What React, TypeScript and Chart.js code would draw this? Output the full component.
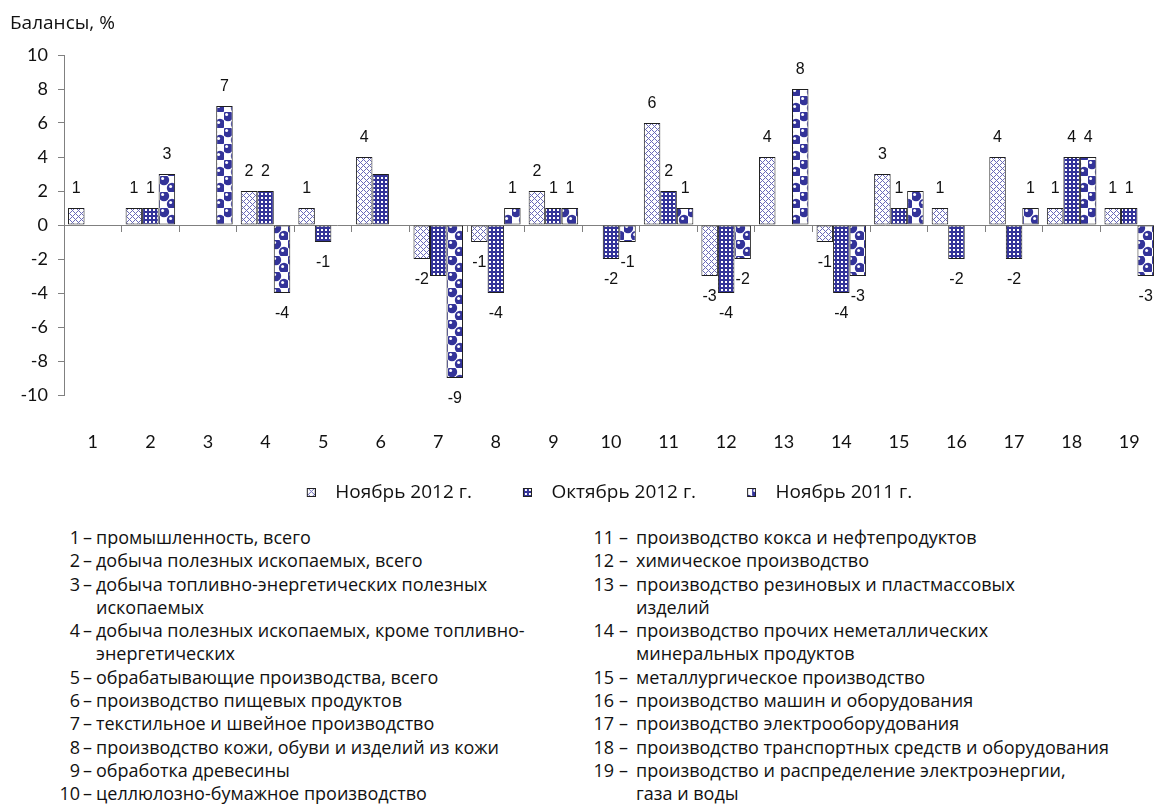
import React, { useEffect, useRef } from 'react';
import { Chart, registerables } from 'chart.js';

Chart.register(...registerables);

// ---- data ----
const categories = ['1', '2', '3', '4', '5', '6', '7', '8', '9', '10', '11', '12', '13', '14', '15', '16', '17', '18', '19'];
const seriesNames = ['Ноябрь 2012 г.', 'Октябрь 2012 г.', 'Ноябрь 2011 г.'];
const nov2012 = [1, 1, 0, 2, 1, 4, -2, -1, 2, 0, 6, -3, 4, -1, 3, 1, 4, 1, 1];
const oct2012 = [0, 1, 0, 2, -1, 3, -3, -4, 1, -2, 2, -4, 0, -4, 1, -2, -2, 4, 1];
const nov2011 = [0, 3, 7, -4, 0, 0, -9, 1, 1, -1, 1, -2, 8, -3, 2, 0, 1, 4, -3];
const yMin = -10;
const yMax = 10;
const yStep = 2;
// value labels that are not printed in the original: [series, category index]
const unlabeled = [
  [1, 5],
  [1, 6],
  [2, 14],
];
const titleText = 'Балансы, %';

const notesLeft: string[][] = [
  ['1', 'промышленность, всего'],
  ['2', 'добыча полезных ископаемых, всего'],
  ['3', 'добыча топливно-энергетических полезных', 'ископаемых'],
  ['4', 'добыча полезных ископаемых, кроме топливно-', 'энергетических'],
  ['5', 'обрабатывающие производства, всего'],
  ['6', 'производство пищевых продуктов'],
  ['7', 'текстильное и швейное производство'],
  ['8', 'производство кожи, обуви и изделий из кожи'],
  ['9', 'обработка древесины'],
  ['10', 'целлюлозно-бумажное производство'],
];
const notesRight: string[][] = [
  ['11', 'производство кокса и нефтепродуктов'],
  ['12', 'химическое производство'],
  ['13', 'производство резиновых и пластмассовых', 'изделий'],
  ['14', 'производство прочих неметаллических', 'минеральных продуктов'],
  ['15', 'металлургическое производство'],
  ['16', 'производство машин и оборудования'],
  ['17', 'производство электрооборудования'],
  ['18', 'производство транспортных средств и оборудования'],
  ['19', 'производство и распределение электроэнергии,', 'газа и воды'],
];

const BLUE = '#333399';
const TEXT_FONT = '"Open Sans", "Noto Sans", "DejaVu Sans", sans-serif';
const TICK_FONT = 'Lato, "Open Sans", sans-serif';
const LABEL_FONT = '"Liberation Sans Narrow", "Liberation Sans", Arial, sans-serif';

function makeTile(kind: number): HTMLCanvasElement {
  const c = document.createElement('canvas');
  const ctx = c.getContext('2d') as CanvasRenderingContext2D;
  if (kind === 0) {
    c.width = 6;
    c.height = 6;
    ctx.fillStyle = '#ffffff';
    ctx.fillRect(0, 0, 6, 6);
    ctx.fillStyle = '#6a6ab8';
    for (let x = 0; x < 6; x++) {
      for (let y = 0; y < 6; y++) {
        if ((x + y) % 6 === 0 || (x - y + 6) % 6 === 0) ctx.fillRect(x, y, 1, 1);
      }
    }
  } else if (kind === 1) {
    c.width = 4;
    c.height = 4;
    ctx.fillStyle = BLUE;
    ctx.fillRect(0, 0, 4, 4);
    ctx.fillStyle = '#ffffff';
    ctx.fillRect(1, 1, 2, 2);
  } else {
    c.width = 16;
    c.height = 16;
    ctx.fillStyle = '#ffffff';
    ctx.fillRect(0, 0, 16, 16);
    const centers = [
      [4, 4],
      [12, 12],
    ];
    centers.forEach(([cx, cy]) => {
      ctx.fillStyle = BLUE;
      ctx.beginPath();
      ctx.arc(cx, cy, 5.2, 0, Math.PI * 2);
      ctx.fill();
      ctx.fillStyle = '#ffffff';
      ctx.beginPath();
      ctx.arc(cx - 1.4, cy - 1.6, 1.5, 0, Math.PI * 2);
      ctx.fill();
    });
  }
  return c;
}

// legend swatch: a transparent strip with the 9px patterned square at its right end
function makeSwatch(tile: HTMLCanvasElement): HTMLCanvasElement {
  const c = document.createElement('canvas');
  c.width = 20;
  c.height = 9;
  const ctx = c.getContext('2d') as CanvasRenderingContext2D;
  const p = ctx.createPattern(tile, 'repeat');
  if (p) ctx.fillStyle = p;
  ctx.fillRect(11, 0, 9, 9);
  ctx.strokeStyle = '#222';
  ctx.lineWidth = 1;
  ctx.strokeRect(11.5, 0.5, 8, 8);
  return c;
}

const valueLabels = {
  id: 'valueLabels',
  afterDatasetsDraw(chart: any) {
    const ctx = chart.ctx;
    ctx.save();
    ctx.font = `16px ${LABEL_FONT}`;
    ctx.fillStyle = '#111';
    ctx.textAlign = 'center';
    ctx.textBaseline = 'middle';
    chart.data.datasets.forEach((ds: any, di: number) => {
      const meta = chart.getDatasetMeta(di);
      meta.data.forEach((bar: any, i: number) => {
        const v = ds.data[i];
        if (!v) return;
        if (unlabeled.some(([s, c]) => s === di && c === i)) return;
        const y = v > 0 ? bar.y - 19 : bar.y + 21;
        ctx.fillText(String(v), bar.x, y);
      });
    });
    ctx.restore();
  },
};

// nudges the centred legend a little to the left, as in the original layout
const legendNudge = {
  id: 'legendNudge',
  afterLayout(chart: any) {
    const l = chart.legend;
    if (l) {
      l.left -= 12;
      l.right -= 12;
    }
  },
};

function NoteColumn({ notes, numRight, dashLeft, textLeft }: { notes: string[][]; numRight: number; dashLeft: number; textLeft: number }) {
  const lines: { num: string; text: string }[] = [];
  notes.forEach((n) => {
    lines.push({ num: n[0], text: n[1] });
    for (let k = 2; k < n.length; k++) lines.push({ num: '', text: n[k] });
  });
  return (
    <div style={{ position: 'absolute', left: 0, top: 526, width: 1154 }}>
      {lines.map((l, i) => (
        <div key={i} style={{ position: 'relative', height: 23.3, lineHeight: '23.3px' }}>
          {l.num && (
            <span style={{ position: 'absolute', left: numRight - 40, width: 40, textAlign: 'right' }}>{l.num}</span>
          )}
          {l.num && <span style={{ position: 'absolute', left: dashLeft }}>–</span>}
          <span style={{ position: 'absolute', left: textLeft, whiteSpace: 'nowrap' }}>{l.text}</span>
        </div>
      ))}
    </div>
  );
}

export default function App() {
  const ref = useRef<HTMLCanvasElement | null>(null);

  useEffect(() => {
    const canvas = ref.current;
    if (!canvas) return;
    const ctx = canvas.getContext('2d') as CanvasRenderingContext2D;
    const tiles = [makeTile(0), makeTile(1), makeTile(2)];
    const patterns = tiles.map((t) => ctx.createPattern(t, 'repeat') as CanvasPattern);
    const swatches = tiles.map((t) => makeSwatch(t));
    const seriesData = [nov2012, oct2012, nov2011];

    const chart = new Chart(canvas, {
      type: 'bar',
      data: {
        labels: categories,
        datasets: seriesData.map((d, i) => ({
          label: seriesNames[i],
          data: d,
          backgroundColor: patterns[i],
          borderColor: '#1e1e1e',
          borderWidth: 1,
          borderSkipped: false,
          categoryPercentage: 0.86,
          barPercentage: 1,
        })),
      },
      options: {
        responsive: false,
        animation: false,
        layout: { padding: { left: 0, right: 12, top: 55, bottom: 0 } },
        plugins: {
          tooltip: { enabled: false },
          legend: {
            position: 'bottom',
            fullSize: false,
            labels: {
              usePointStyle: true,
              pointStyleWidth: 40,
              padding: 30,
              color: '#111',
              font: { family: TEXT_FONT, size: 19 },
              generateLabels: (ch: any) => {
                const items = (Chart.defaults as any).plugins.legend.labels.generateLabels(ch);
                items.forEach((it: any, i: number) => {
                  it.pointStyle = swatches[i];
                });
                return items;
              },
            },
          },
        },
        scales: {
          x: {
            type: 'category',
            position: { y: 0 } as any,
            offset: true,
            grid: { offset: true, drawOnChartArea: false, drawTicks: true, tickLength: 6, color: '#808080' },
            border: { color: '#808080' },
            ticks: { display: false },
          },
          x2: {
            type: 'category',
            labels: categories,
            position: 'bottom',
            offset: true,
            grid: { display: false },
            border: { display: false },
            ticks: { autoSkip: false, maxRotation: 0, padding: 28, color: '#111', font: { family: TICK_FONT, size: 18 } },
            afterFit: (s: any) => {
              s.height = 58;
            },
          },
          y: {
            min: yMin,
            max: yMax,
            ticks: { stepSize: yStep, padding: 10, color: '#111', font: { family: TICK_FONT, size: 18 } },
            grid: { drawOnChartArea: false, tickLength: 6, color: '#808080' },
            border: { color: '#808080' },
            afterFit: (s: any) => {
              s.width = 64;
            },
          },
        } as any,
      },
      plugins: [valueLabels, legendNudge],
    });
    return () => chart.destroy();
  }, []);

  return (
    <div
      style={{
        position: 'fixed',
        left: 0,
        top: 0,
        width: 1154,
        height: 809,
        overflow: 'hidden',
        background: '#fff',
        fontFamily: TEXT_FONT,
        fontSize: 18,
        color: '#111',
      }}
    >
      <canvas ref={ref} width={1170} height={512} style={{ position: 'absolute', left: 0, top: 0, width: 1170, height: 512 }} />
      <div style={{ position: 'absolute', left: 10, top: 9, fontSize: 19, whiteSpace: 'nowrap' }}>{titleText}</div>
      <NoteColumn notes={notesLeft} numRight={80} dashLeft={83} textLeft={96} />
      <NoteColumn notes={notesRight} numRight={614} dashLeft={619} textLeft={636} />
    </div>
  );
}
